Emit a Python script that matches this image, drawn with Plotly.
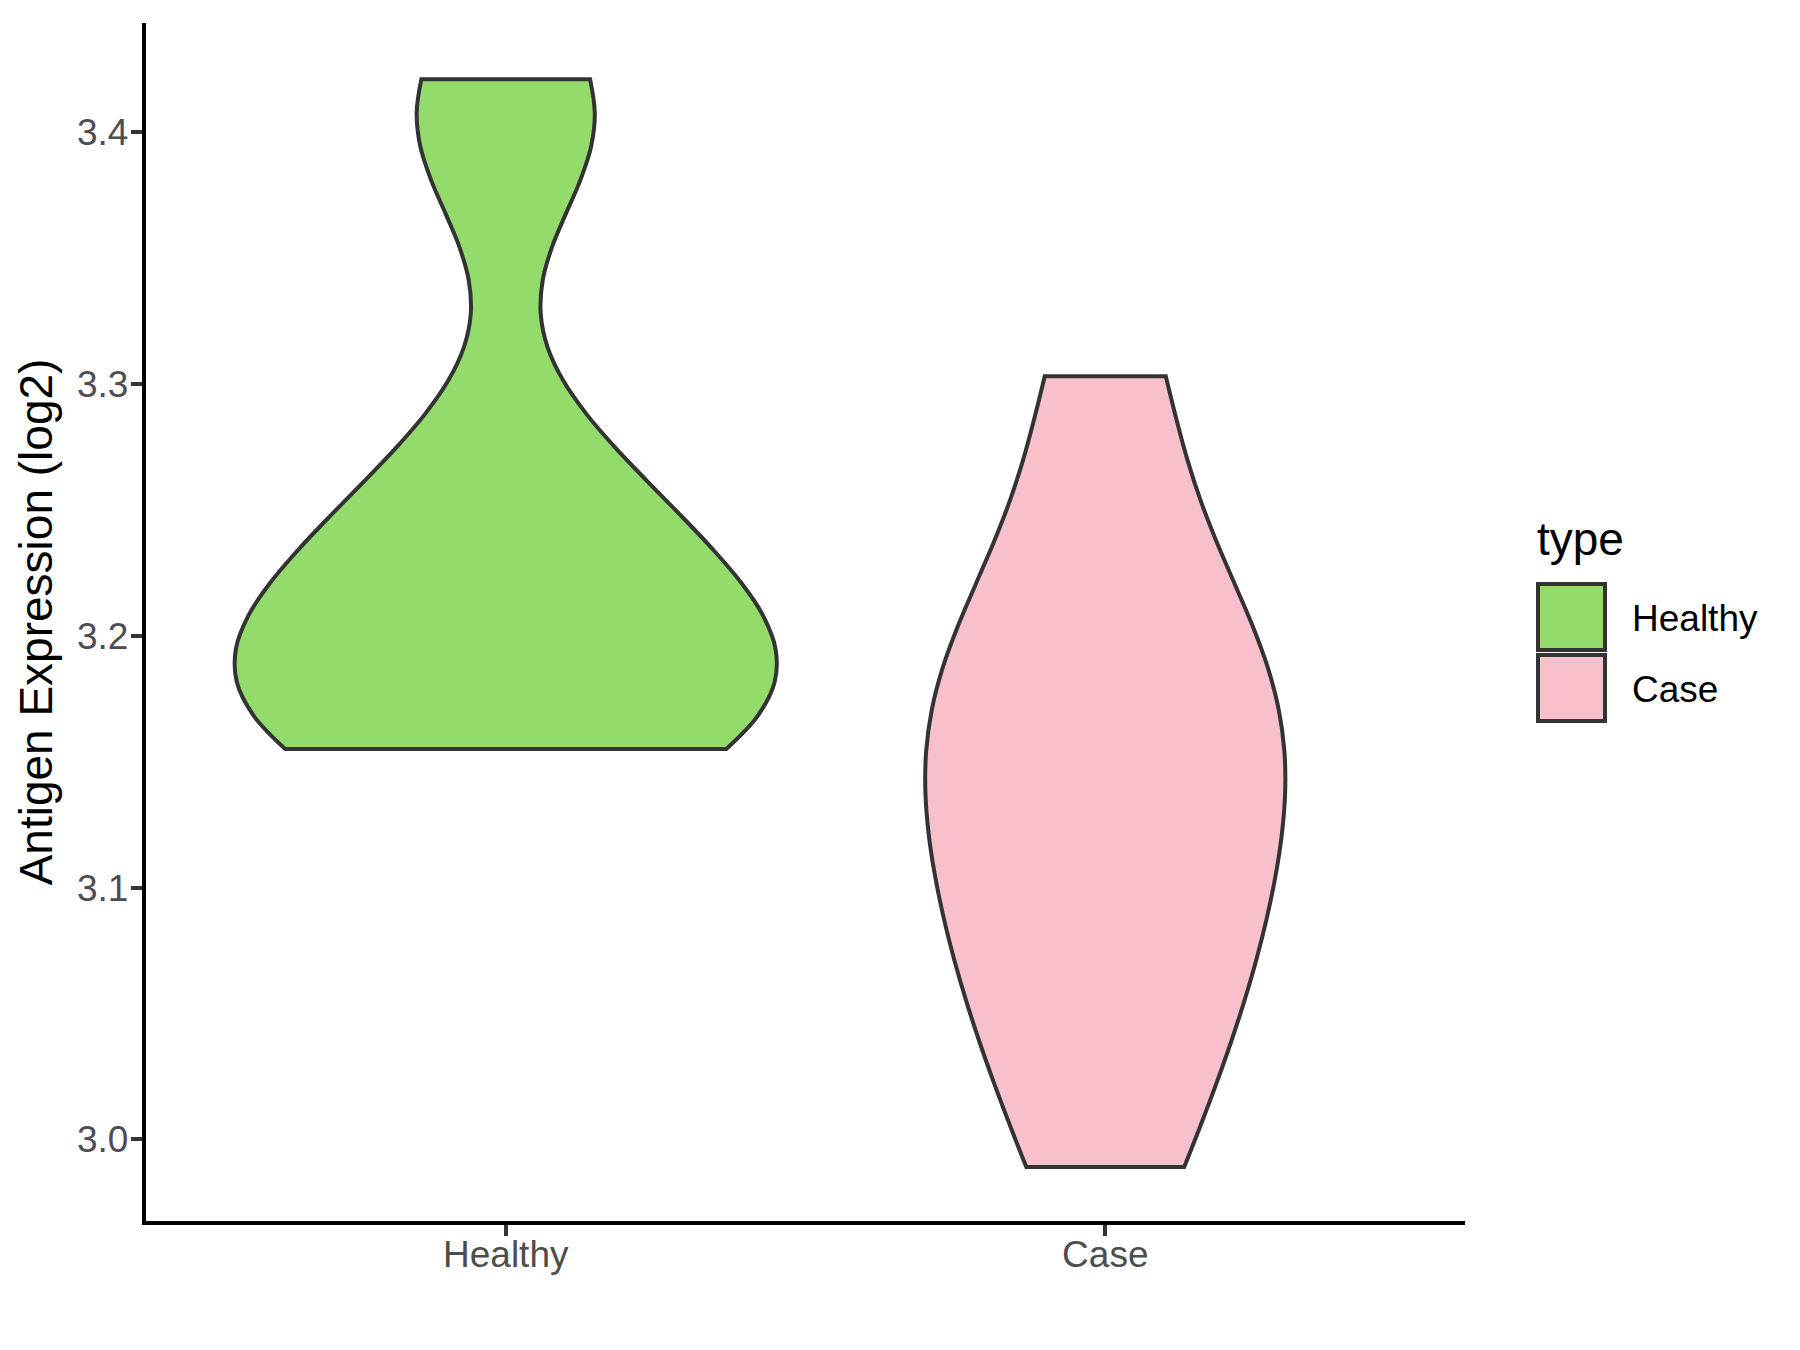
import plotly.graph_objects as go

# ---- data ----
categories = ["Healthy", "Case"]
healthy_values = [3.155, 3.160, 3.170, 3.185, 3.200, 3.215, 3.240, 3.265, 3.393, 3.421]
case_values = [2.989, 3.045, 3.075, 3.110, 3.140, 3.165, 3.190, 3.225, 3.303]
bandwidths = [0.04, 0.05]
violin_widths = [0.9, 0.6]  # ggplot area scaling: widest violin spans 0.9
fill_colors = ["#93DB6B", "#F7C0CB"]
y_ticks = [3.0, 3.1, 3.2, 3.3, 3.4]
y_tick_labels = ["3.0", "3.1", "3.2", "3.3", "3.4"]
legend_title = "type"

FONT = "Liberation Sans, Arial, Helvetica, sans-serif"
OFF = 8  # default body margin of the html page
W, H = 1800 - OFF, 1350 - OFF
# plot area in page pixels: x 146..1465, y 23..1221
L, T = 146 - OFF, 23 - OFF
R, B = W - (1465 - OFF), H - (1221 - OFF)

fig = go.Figure()
for cat, vals, bw, wd, col in zip(categories, [healthy_values, case_values],
                                  bandwidths, violin_widths, fill_colors):
    fig.add_trace(go.Violin(
        x=[cat] * len(vals), y=vals, name=cat,
        fillcolor=col, line=dict(color="#333333", width=4),
        bandwidth=bw, spanmode="hard", points=False,
        box_visible=False, meanline_visible=False,
        scalemode="width", width=wd,
        showlegend=False, hoverinfo="skip",
    ))

axis_common = dict(
    showline=True, linecolor="black", linewidth=4.4,
    ticks="outside", ticklen=11, tickwidth=4.4, tickcolor="#333333",
    tickfont=dict(size=37, color="#4D4D4D", family=FONT),
    showgrid=False, zeroline=False,
)

fig.update_layout(
    width=W, height=H,
    margin=dict(l=L, r=R, t=T, b=B, autoexpand=False),
    plot_bgcolor="white", paper_bgcolor="white",
    violinmode="overlay",
    font=dict(family=FONT),
    showlegend=False,
)
fig.update_xaxes(type="category", categoryorder="array", categoryarray=categories,
                 range=[-0.6, 1.6], ticklabelstandoff=-14, **axis_common)
fig.update_yaxes(range=[2.9676, 3.4433], tickvals=y_ticks, ticktext=y_tick_labels,
                 ticklabelstandoff=-5,
                 title=dict(text="Antigen Expression (log2)",
                            font=dict(size=46, color="black", family=FONT), standoff=11),
                 **axis_common)

# ---- legend (drawn manually to match ggplot's square keys) ----
pw, ph = W - L - R, H - T - B
def px_x(px):  # page pixel -> paper
    return (px - OFF - L) / pw
def px_y(py):
    return (H - B - (py - OFF)) / ph

fig.add_annotation(xref="paper", yref="paper", x=px_x(1535), y=px_y(539),
                   text=legend_title, showarrow=False, xanchor="left", yanchor="middle",
                   font=dict(size=46, color="black", family=FONT))
key_tops = [584, 655]
for cat, col, top in zip(categories, fill_colors, key_tops):
    fig.add_shape(type="rect", xref="paper", yref="paper",
                  x0=px_x(1538), x1=px_x(1605), y0=px_y(top), y1=px_y(top + 66),
                  fillcolor=col, line=dict(color="#333333", width=4))
    fig.add_annotation(xref="paper", yref="paper", x=px_x(1630), y=px_y(top + 34),
                       text=cat, showarrow=False, xanchor="left", yanchor="middle",
                       font=dict(size=37, color="black", family=FONT))

fig.write_html("out.html")
